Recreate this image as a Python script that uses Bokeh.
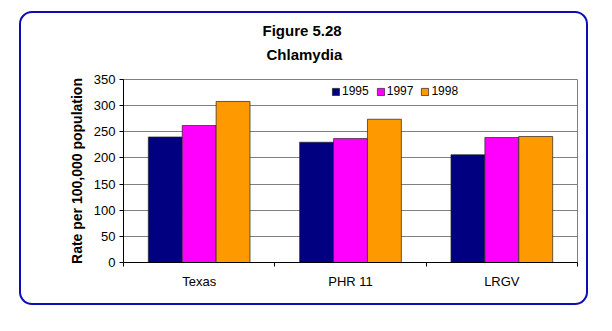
import numpy as np
from bokeh.plotting import figure
from bokeh.models import (Range1d, FixedTicker, Legend, LegendItem, Title,
                          ColumnDataSource, InlineStyleSheet)
from bokeh.embed import file_html
from bokeh.resources import INLINE

# ---- data ----
regions = ["Texas", "PHR 11", "LRGV"]
years = ["1995", "1997", "1998"]
rate_1995 = [240, 230, 206]
rate_1997 = [262, 237, 239]
rate_1998 = [308, 274, 241]
colors = ["#000080", "#ff00ff", "#ff9900"]
y_ticks = [0, 50, 100, 150, 200, 250, 300, 350]

FONT = "Liberation Sans"

p = figure(width=612, height=331, output_backend="svg", toolbar_location=None,
           x_range=Range1d(0, len(regions)), y_range=Range1d(0, 350),
           min_border_left=123, min_border_right=35, min_border_top=79,
           min_border_bottom=69, background_fill_color="white",
           border_fill_color="white", outline_line_color="#808080")

centers = np.arange(len(regions)) + 0.5
bw = 0.224
series = [rate_1995, rate_1997, rate_1998]
renderers = []
for i, (vals, col) in enumerate(zip(series, colors)):
    src = ColumnDataSource(dict(x=centers + (i - 1) * bw, top=vals))
    r = p.vbar(x="x", top="top", width=bw, bottom=0, source=src,
               fill_color=col, line_color="#222222", line_width=0.7)
    renderers.append(r)

# axes
p.xaxis.ticker = FixedTicker(ticks=list(centers), minor_ticks=list(range(len(regions) + 1)))
p.xaxis.major_label_overrides = {float(c): n for c, n in zip(centers, regions)}
p.xaxis.major_tick_line_color = None
p.xaxis.major_tick_out = 0
p.xaxis.major_tick_in = 0
p.xaxis.minor_tick_out = 4
p.xaxis.minor_tick_in = 0
p.xaxis.minor_tick_line_color = "#000000"
p.xaxis.major_label_standoff = 7
p.xaxis.major_label_text_font = FONT
p.xaxis.major_label_text_font_size = "13px"
p.xaxis.major_label_text_color = "#000000"
p.xaxis.axis_line_color = "#000000"

p.yaxis.ticker = FixedTicker(ticks=y_ticks)
p.yaxis.minor_tick_line_color = None
p.yaxis.major_tick_out = 4
p.yaxis.major_tick_in = 0
p.yaxis.major_tick_line_color = "#000000"
p.yaxis.major_label_standoff = 4
p.yaxis.major_label_text_font = FONT
p.yaxis.major_label_text_font_size = "13px"
p.yaxis.major_label_text_color = "#000000"
p.yaxis.axis_line_color = "#000000"
p.yaxis.axis_label = "Rate per 100,000 population"
p.yaxis.axis_label_text_font = FONT
p.yaxis.axis_label_text_font_size = "14px"
p.yaxis.axis_label_text_font_style = "bold"
p.yaxis.axis_label_text_color = "#000000"
p.yaxis.axis_label_standoff = 6

p.xgrid.grid_line_color = None
p.ygrid.grid_line_color = "#808080"
p.ygrid.grid_line_width = 1

# legend
legend = Legend(items=[LegendItem(label=y, renderers=[r]) for y, r in zip(years, renderers)],
                orientation="horizontal", location=(208, 164),
                glyph_width=9, glyph_height=9, label_height=12, label_standoff=2,
                spacing=7, padding=0, margin=0, border_line_color=None,
                background_fill_alpha=0, label_text_font=FONT,
                label_text_font_size="12px", label_text_color="#000000")
p.add_layout(legend)

# title lines (first added is nearest to the frame)
p.add_layout(Title(text="Chlamydia", align="left", offset=143, standoff=34,
                   text_font=FONT, text_font_size="15px", text_font_style="bold",
                   text_color="#000000"), "above")
p.add_layout(Title(text="Figure 5.28", align="left", offset=139, standoff=-24,
                   text_font=FONT, text_font_size="15px", text_font_style="bold",
                   text_color="#000000"), "above")

# rounded blue frame around the whole chart
p.stylesheets = [InlineStyleSheet(css="""
:host::after {
  content: "";
  position: absolute;
  left: 19px; top: 11px;
  width: 569px; height: 294px;
  box-sizing: border-box;
  border: 2.5px solid #0d0db8;
  border-radius: 13px;
  pointer-events: none;
}
""")]

open("out.html", "w").write(file_html(p, INLINE))
